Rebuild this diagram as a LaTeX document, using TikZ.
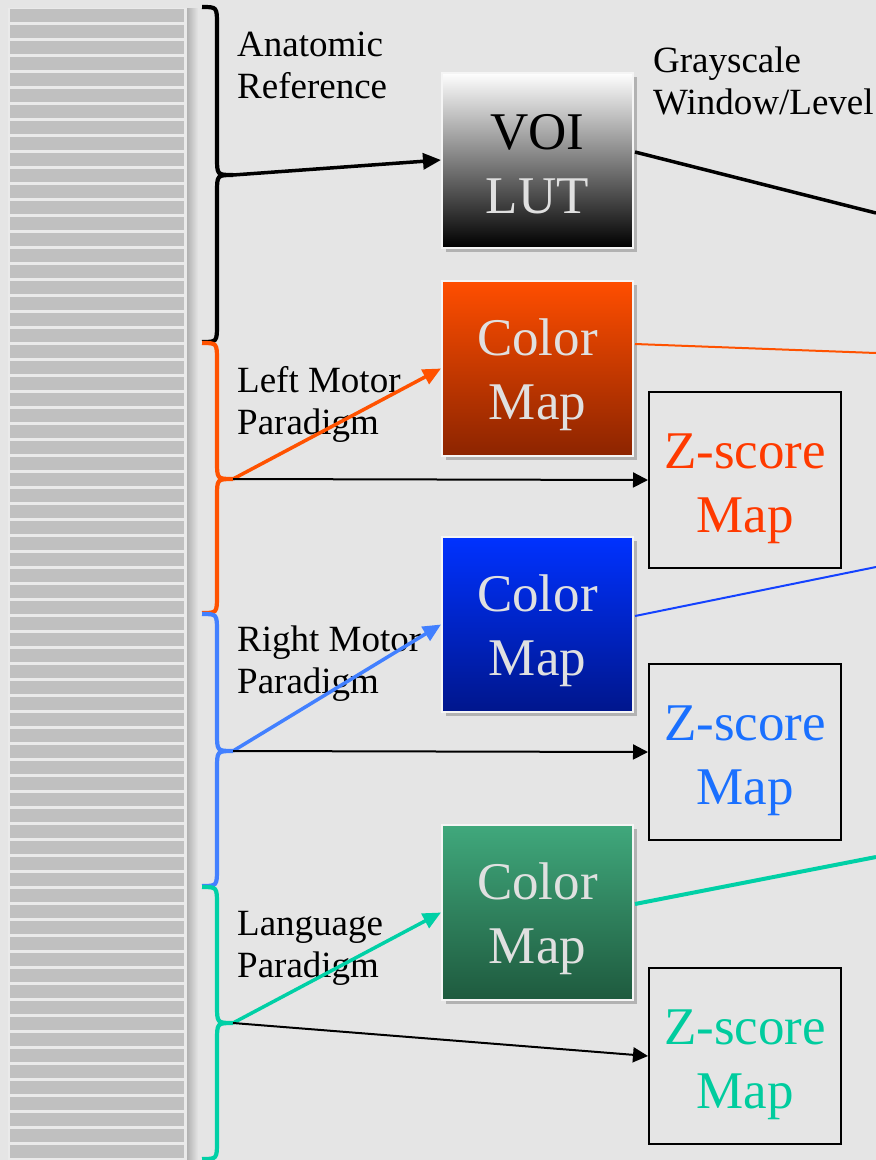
\documentclass[tikz,border=0pt]{standalone}
\usepackage{fontspec}
\setmainfont{Liberation Serif}
\usetikzlibrary{arrows.meta,shadows}
\newcommand{\tstrx}[1]{\rule{0pt}{#1}}
\definecolor{bg}{RGB}{229,229,229}
\definecolor{panel}{RGB}{234,234,234}
\definecolor{stripe}{RGB}{192,192,192}
\definecolor{orng}{RGB}{255,82,0}
\definecolor{blu}{RGB}{66,128,255}
\definecolor{grn}{RGB}{0,208,166}
\definecolor{zorng}{RGB}{255,58,0}
\definecolor{zblu}{RGB}{26,112,255}
\definecolor{zgrn}{RGB}{0,204,158}
\definecolor{cmtext}{RGB}{224,224,224}
\definecolor{oTop}{RGB}{255,78,0}
\definecolor{oBot}{RGB}{140,36,0}
\definecolor{bTop}{RGB}{0,50,255}
\definecolor{bBot}{RGB}{0,22,140}
\definecolor{gTop}{RGB}{64,168,124}
\definecolor{gBot}{RGB}{30,90,62}
\definecolor{outblue}{RGB}{20,66,255}
\begin{document}
\begin{tikzpicture}[x=1pt,y=-1pt,
  lbl/.style={anchor=base west,inner sep=0pt,font=\fontsize{37}{42}\selectfont},
  mapbox/.style={minimum width=191pt,minimum height=175pt,inner sep=0pt,
    draw=white!92!gray,line width=2pt,align=center,
    font=\fontsize{53}{64}\selectfont,
    drop shadow={shadow xshift=4pt,shadow yshift=-4pt,opacity=0.22,fill=black}},
  zbox/.style={minimum width=192pt,minimum height=176pt,inner sep=0pt,
    draw=black,line width=2pt,align=center,
    font=\fontsize{53}{64}\selectfont},
  brc/.style={line width=4.2pt},
  bigarrow/.style={line width=3.5pt,-{Triangle[length=18pt,width=16pt]}},
  thinarrow/.style={line width=2pt,-{Triangle[length=15pt,width=15pt]}},
]
\useasboundingbox (0,0) rectangle (876,1160);
\clip (0,0) rectangle (876,1160);
\fill[bg] (0,0) rectangle (876,1160);
% stacked slices panel
\shade[left color=gray!55!bg,right color=bg] (186,8) rectangle (198,1160);
\fill[panel] (8,8) rectangle (187,1160);
\foreach \k in {0,...,71} \fill[stripe] (10,{9+16*\k}) rectangle (184,{21.5+16*\k});
% braces
\coordinate (tipA) at (233,175);
\coordinate (tipB) at (233,479);
\coordinate (tipC) at (233,751);
\coordinate (tipD) at (233,1023);
\draw[brc,black] (202,7) .. controls (217,7) .. (217,25) -- (217,157) .. controls (217,175) .. (tipA) .. controls (217,175) .. (217,193) -- (217,324) .. controls (217,342) .. (202,342);
\draw[brc,orng] (202,343) .. controls (217,343) .. (217,361) -- (217,461) .. controls (217,479) .. (tipB) .. controls (217,479) .. (217,497) -- (217,595) .. controls (217,613) .. (202,613);
\draw[brc,blu] (202,614) .. controls (217,614) .. (217,632) -- (217,733) .. controls (217,751) .. (tipC) .. controls (217,751) .. (217,769) -- (217,868) .. controls (217,886) .. (202,886);
\draw[brc,grn] (202,887) .. controls (217,887) .. (217,905) -- (217,1005) .. controls (217,1023) .. (tipD) .. controls (217,1023) .. (217,1041) -- (217,1141) .. controls (217,1159) .. (202,1159);
% labels
\node[lbl] (anat1) at (237,56) {Anatomic};
\node[lbl] (anat2) at (237,98) {Reference};
\node[lbl] (lm1) at (237,392) {Left Motor};
\node[lbl] (lm2) at (237,434) {Paradigm};
\node[lbl] (rm1) at (237,651) {Right Motor};
\node[lbl] (rm2) at (237,693) {Paradigm};
\node[lbl] (lg1) at (237,935) {Language};
\node[lbl] (lg2) at (237,977) {Paradigm};
\node[lbl] (gs1) at (653,72) {Grayscale};
\node[lbl] (gs2) at (653,114) {Window/Level};
% boxes
\node[mapbox,top color=white,bottom color=black] (voi) at (537.5,160) {\tstrx{44pt}VOI\\\textcolor{cmtext}{LUT}};
\node[mapbox,top color=oTop,bottom color=oBot,text=cmtext] (cmA) at (537.5,368.5) {\tstrx{49pt}Color\\Map};
\node[mapbox,top color=bTop,bottom color=bBot,text=cmtext] (cmB) at (537.5,624.5) {\tstrx{49pt}Color\\Map};
\node[mapbox,top color=gTop,bottom color=gBot,text=cmtext] (cmC) at (537.5,912.5) {\tstrx{49pt}Color\\Map};
\node[zbox,text=zorng] (zA) at (745,480) {\tstrx{52pt}Z-score\\Map};
\node[zbox,text=zblu] (zB) at (745,752) {\tstrx{52pt}Z-score\\Map};
\node[zbox,text=zgrn] (zC) at (745,1056) {\tstrx{52pt}Z-score\\Map};
% arrows
\draw[bigarrow,black] (tipA) -- (voi.west);
\draw[bigarrow,orng] (tipB) -- (cmA.west);
\draw[bigarrow,blu] (tipC) -- (cmB.west);
\draw[bigarrow,grn] (tipD) -- (cmC.west);
\draw[thinarrow,black] (tipB) -- (zA.west);
\draw[thinarrow,black] (tipC) -- (zB.west);
\draw[thinarrow,black] (tipD) -- (zC.west);
% outgoing
\coordinate (eA) at (876,213);
\coordinate (eB) at (876,353);
\coordinate (eC) at (876,567);
\coordinate (eD) at (876,857);
\draw[line width=3.5pt,black] (voi.east) ++(1,-8) -- (eA);
\draw[line width=2pt,orng] (cmA.east) ++(1,-24.5) -- (eB);
\draw[line width=2pt,outblue] (cmB.east) ++(1,-8.5) -- (eC);
\draw[line width=4pt,grn] (cmC.east) ++(1,-8.5) -- (eD);
\end{tikzpicture}
\end{document}
